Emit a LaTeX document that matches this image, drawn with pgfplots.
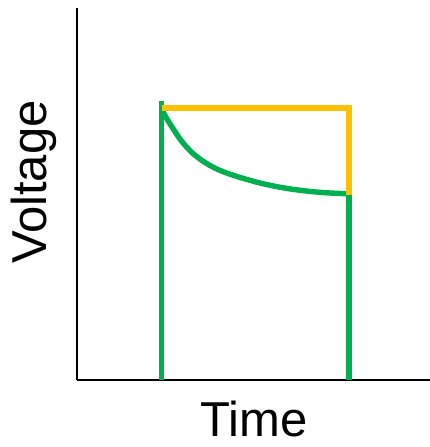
\documentclass[border=0pt]{standalone}
\usepackage{pgfplots}
\pgfplotsset{compat=1.18}
\usepackage{fontspec}
\setmainfont{Liberation Sans}
\definecolor{vgreen}{HTML}{00B050}
\definecolor{vyellow}{HTML}{FFC000}
\begin{document}
\begin{tikzpicture}
% 1 px of the reference = 0.5pt
\path[use as bounding box] (-38.5pt,-33.5pt) rectangle (176.5pt,190pt);
\begin{axis}[
    at={(0,0)}, anchor=south west,
    scale only axis,
    width=176.5pt, height=186pt,
    xmin=0, xmax=353, ymin=0, ymax=372,
    axis x line=bottom, axis y line=left,
    axis line style={-, black, line width=1pt},
    xtick=\empty, ytick=\empty,
    clip=false,
    xlabel={Time}, ylabel={Voltage},
    label style={font=\fontsize{24.5}{28}\selectfont},
    xlabel style={at={(axis description cs:0.501,-0.153)}, anchor=base},
    ylabel style={at={(axis description cs:-0.085,0.532)}, anchor=base},
]
% left edge of the pulse
\addplot[vgreen, line width=2.9pt] coordinates {(84.5,0) (84.5,279)};
% decaying voltage
\addplot[vgreen, line width=2.7pt, smooth] coordinates {
    (85,270) (90,261) (95,253) (103,241) (110,232.5) (116,226.5) (125,219.5)
    (133,214.5) (142,210) (151,206.5) (165,202) (181,197.5) (198,193.7)
    (215,190.8) (232,188.7) (248,187.3) (268,186.3) (272,186.2)
};
% falling edge
\addplot[vgreen, line width=2.9pt] coordinates {(272,187.5) (272,0)};
% ideal voltage
\addplot[vyellow, line width=2.9pt] coordinates {(85,272) (272,272) (272,185)};
\end{axis}
\end{tikzpicture}
\end{document}
